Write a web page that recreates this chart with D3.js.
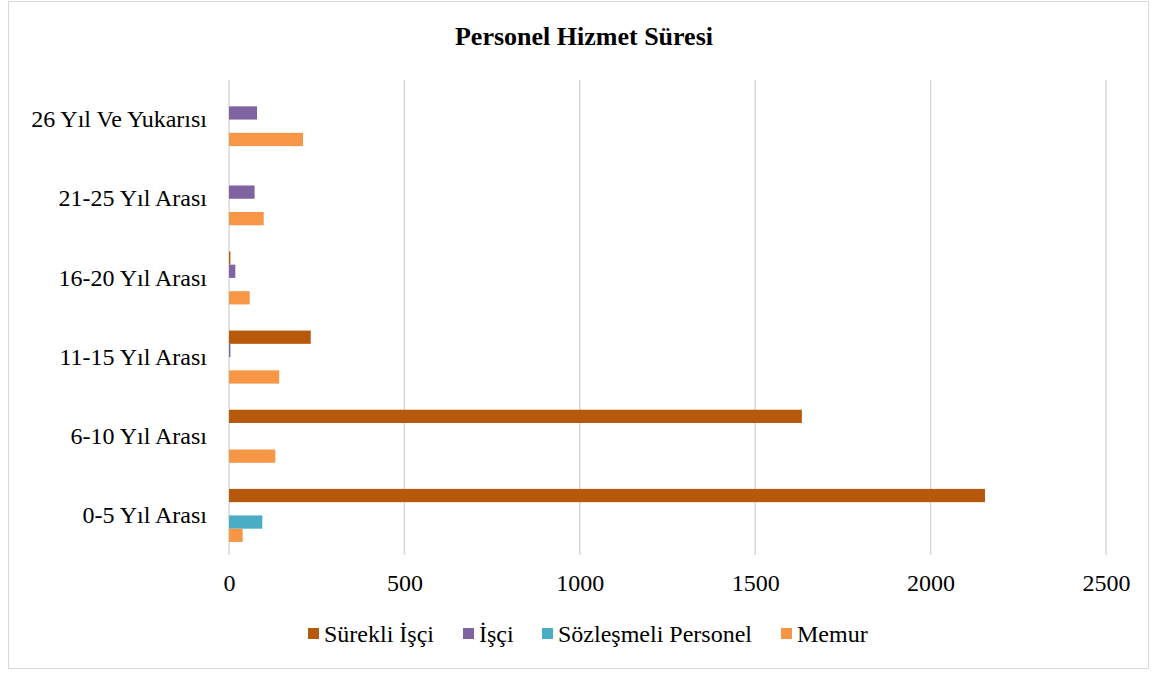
<!DOCTYPE html>
<html>
<head>
<meta charset="utf-8">
<script src="https://cdn.jsdelivr.net/npm/d3@7"></script>
<style>
body { margin: 0; background: #fff; }
text { font-family: "Liberation Serif", "Times New Roman", serif; fill: #000; }
</style>
</head>
<body>
<script>
// categories bottom -> top
const categories = ["0-5 Yıl Arası", "6-10 Yıl Arası", "11-15 Yıl Arası", "16-20 Yıl Arası", "21-25 Yıl Arası", "26 Yıl Ve Yukarısı"]
const seriesNames = ["Sürekli İşçi", "İşçi", "Sözleşmeli Personel", "Memur"]
const seriesColors = ["#B7590A", "#8064A2", "#4BACC6", "#F79646"]
const surekliIsci = [2155, 1633, 233, 4, 0, 0]
const isci = [0, 0, 4, 18, 73, 80]
const sozlesmeli = [95, 0, 0, 0, 0, 0]
const memur = [39, 132, 143, 59, 99, 211]
const xTicks = [0, 500, 1000, 1500, 2000, 2500]

const allSeries = [surekliIsci, isci, sozlesmeli, memur]

let width = 1155, height = 677
let svg = d3.select("body").append("svg").attr("width", width).attr("height", height)

// chart frame
svg.append("rect").attr("x", 8.5).attr("y", 1.5).attr("width", 1140).attr("height", 667)
	.attr("fill", "#fff").attr("stroke", "#d9d9d9")

let plot = {left: 229, right: 1106, top: 80, bottom: 555}

let x = d3.scaleLinear().domain([0, 2500]).range([plot.left, plot.right])
let y = d3.scaleBand().domain(categories).range([plot.bottom, plot.top]).paddingInner(0.33).paddingOuter(0.165)
let sub = d3.scaleBand().domain(seriesNames).range([0, y.bandwidth()])

// title
svg.append("text").attr("x", 584).attr("y", 45).attr("text-anchor", "middle")
	.style("font-size", "26px").style("font-weight", "bold").text("Personel Hizmet Süresi")

// gridlines
svg.append("g").selectAll("line").data(xTicks).enter().append("line")
	.attr("x1", d => x(d)).attr("x2", d => x(d))
	.attr("y1", plot.top).attr("y2", plot.bottom)
	.attr("stroke", "#d9d9d9").attr("stroke-width", 1.5)

// x axis labels
let xAxis = d3.axisBottom(x).tickValues(xTicks).tickFormat(d3.format("d")).tickSize(0).tickPadding(0)
let gx = svg.append("g").attr("transform", `translate(0,${plot.bottom + 36})`).call(xAxis)
gx.select(".domain").remove()
gx.selectAll("text").style("font-size", "24px").attr("dy", 0)

// y axis labels
let yAxis = d3.axisLeft(y).tickSize(0).tickPadding(22)
let gy = svg.append("g").attr("transform", `translate(${plot.left},0)`).call(yAxis)
gy.select(".domain").remove()
gy.selectAll("text").style("font-size", "24px")

// bars
let rows = []
categories.forEach((c, i) => {
	seriesNames.forEach((s, j) => {
		rows.push({cat: c, series: s, value: allSeries[j][i], color: seriesColors[j]})
	})
})

svg.append("g").selectAll("rect").data(rows.filter(d => d.value > 0)).enter().append("rect")
	.attr("x", x(0))
	.attr("y", d => y(d.cat) + sub(d.series))
	.attr("height", sub.bandwidth())
	.attr("width", d => x(d.value) - x(0))
	.attr("fill", d => d.color)

// legend
let legendX = [308, 463, 542, 781]
let legend = svg.append("g").selectAll("g").data(seriesNames).enter().append("g")
	.attr("transform", (d, i) => `translate(${legendX[i]},634)`)
legend.append("rect").attr("x", 0).attr("y", -6).attr("width", 11).attr("height", 11)
	.attr("fill", (d, i) => seriesColors[i])
legend.append("text").attr("x", 16).attr("y", 8).style("font-size", "24px").text(d => d)
</script>
</body>
</html>
